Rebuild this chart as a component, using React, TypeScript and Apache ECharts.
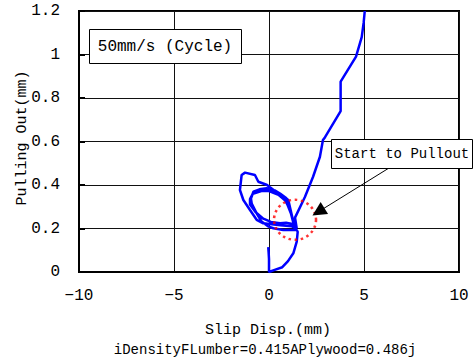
import React, { useEffect, useRef } from "react";
import * as echarts from "echarts";

const xTicks = [-10, -5, 0, 5, 10];
const yTicks = [0, 0.2, 0.4, 0.6, 0.8, 1, 1.2];

// Slip displacement (mm) vs pulling out (mm)
const curveX = [
  -0.04, -0.02, 0.0, 0.0, 0.3, 0.7, 1.0, 1.28, 1.46, 1.51, 1.46, 0.75, 0.23, -0.05,
  -0.39, -0.65, -0.91, -0.95, -0.82, -0.5, -0.12, 0.3, 0.58, 0.9, 1.02, 1.15, 1.28, 1.3,
  0.9, 0.58, 0.1, -0.3, -0.7, -1.0, -1.0, -0.85, -0.4, 0.0, 0.5, 0.9, 1.15, 1.3, 1.46,
  1.2, 0.6, -0.3, -0.65, -1.0, -1.35, -1.53, -1.44, -1.26, -0.74, -0.56, -0.1, 0.05,
  0.49, 0.84, 1.11, 1.28, 1.37, 1.46, 1.37, 1.89, 2.32, 2.68, 2.84, 2.95, 3.77, 3.77,
  4.58, 4.88, 4.98, 5.04,
];
const curveY = [
  0.114, 0.09, 0.06, 0.0, 0.01, 0.022, 0.05, 0.086, 0.14, 0.185, 0.193, 0.193, 0.201, 0.21,
  0.232, 0.27, 0.315, 0.338, 0.369, 0.38, 0.385, 0.375, 0.361, 0.34, 0.33, 0.28, 0.232, 0.22,
  0.226, 0.224, 0.23, 0.245, 0.275, 0.31, 0.335, 0.36, 0.372, 0.372, 0.355, 0.325, 0.27, 0.22, 0.2,
  0.21, 0.215, 0.224, 0.24, 0.285, 0.331, 0.377, 0.446, 0.457, 0.446, 0.415, 0.4, 0.39,
  0.361, 0.331, 0.285, 0.232, 0.216, 0.2, 0.25, 0.345, 0.438, 0.53, 0.607, 0.62, 0.74, 0.875,
  0.99, 1.08, 1.145, 1.2,
];

const circleCenter = [1.37, 0.24];
const arrowFrom = [6.37, 0.481];
const arrowTo = [2.6, 0.277];

const FONT = "Liberation Mono";

export default function App() {
  const ref = useRef<HTMLDivElement>(null);
  useEffect(() => {
    if (!ref.current) return;
    const chart = echarts.init(ref.current, null, { renderer: "svg" });
    const data = curveX.map((x, i) => [x, curveY[i]]);
    chart.setOption({
      animation: false,
      backgroundColor: "#fff",
      grid: {
        left: 79,
        right: 14,
        top: 11,
        bottom: 91,
        show: true,
        borderColor: "#000",
        borderWidth: 2,
      },
      xAxis: {
        type: "value",
        min: xTicks[0],
        max: xTicks[xTicks.length - 1],
        interval: 5,
        axisLine: { show: true, onZero: false, lineStyle: { color: "#000", width: 2 } },
        axisTick: { show: false },
        splitLine: { show: true, lineStyle: { color: "#111", width: 1 } },
        axisLabel: {
          color: "#000",
          fontFamily: FONT,
          fontSize: 16,
          margin: 16,
          formatter: (v: number) => String(v).replace("-", "−"),
        },
      },
      yAxis: {
        type: "value",
        min: yTicks[0],
        max: yTicks[yTicks.length - 1],
        interval: 0.2,
        axisLine: { show: true, onZero: false, lineStyle: { color: "#000", width: 2 } },
        axisTick: { show: true, inside: true, length: 6, lineStyle: { color: "#000", width: 2 } },
        splitLine: { show: true, lineStyle: { color: "#111", width: 1 } },
        axisLabel: {
          color: "#000",
          fontFamily: FONT,
          fontSize: 16,
          margin: 19,
        },
      },
      series: [
        {
          type: "line",
          data,
          showSymbol: false,
          lineStyle: { color: "#0000ff", width: 2.5 },
          itemStyle: { color: "#0000ff" },
          z: 3,
        },
        {
          type: "scatter",
          data: [circleCenter],
          symbol: "circle",
          symbolSize: [42, 40],
          itemStyle: {
            color: "rgba(0,0,0,0)",
            borderColor: "#ff0000",
            borderWidth: 2.5,
            borderType: [2.5, 3.5],
          },
          z: 4,
        },
        {
          type: "line",
          data: [],
          markLine: {
            silent: true,
            symbol: ["none", "triangle"],
            symbolSize: 14,
            label: { show: false },
            lineStyle: { color: "#000", width: 1, type: "solid" },
            itemStyle: { color: "#000" },
            data: [[{ coord: arrowFrom }, { coord: arrowTo }]],
          },
          z: 5,
        },
      ],
      graphic: [
        {
          type: "rect",
          shape: { x: 89.5, y: 29.5, width: 152, height: 34 },
          style: { fill: "#fff", stroke: "#000", lineWidth: 1 },
          z: 10,
        },
        {
          type: "text",
          x: 165,
          y: 47,
          style: {
            text: "50mm/s (Cycle)",
            fontFamily: FONT,
            fontSize: 16,
            fill: "#000",
            align: "center",
            verticalAlign: "middle",
          },
          z: 11,
        },
        {
          type: "rect",
          shape: { x: 331.5, y: 139.5, width: 141, height: 29 },
          style: { fill: "#fff", stroke: "#000", lineWidth: 1 },
          z: 10,
        },
        {
          type: "text",
          x: 402,
          y: 154,
          style: {
            text: "Start to Pullout",
            fontFamily: FONT,
            fontSize: 14,
            fill: "#000",
            align: "center",
            verticalAlign: "middle",
          },
          z: 11,
        },
        {
          type: "text",
          x: 268,
          y: 330,
          style: {
            text: "Slip Disp.(mm)",
            fontFamily: FONT,
            fontSize: 15,
            fill: "#000",
            align: "center",
            verticalAlign: "middle",
          },
        },
        {
          type: "text",
          x: 265,
          y: 350,
          style: {
            text: "iDensityFLumber=0.415APlywood=0.486j",
            fontFamily: FONT,
            fontSize: 14,
            fill: "#000",
            align: "center",
            verticalAlign: "middle",
          },
        },
        {
          type: "text",
          x: 22,
          y: 138,
          rotation: Math.PI / 2,
          style: {
            text: "Pulling Out(mm)",
            fontFamily: FONT,
            fontSize: 15,
            fill: "#000",
            align: "center",
            verticalAlign: "middle",
          },
        },
      ],
    });
    return () => chart.dispose();
  }, []);
  return <div ref={ref} style={{ width: 473, height: 363, position: "absolute", left: 0, top: 0 }} />;
}
